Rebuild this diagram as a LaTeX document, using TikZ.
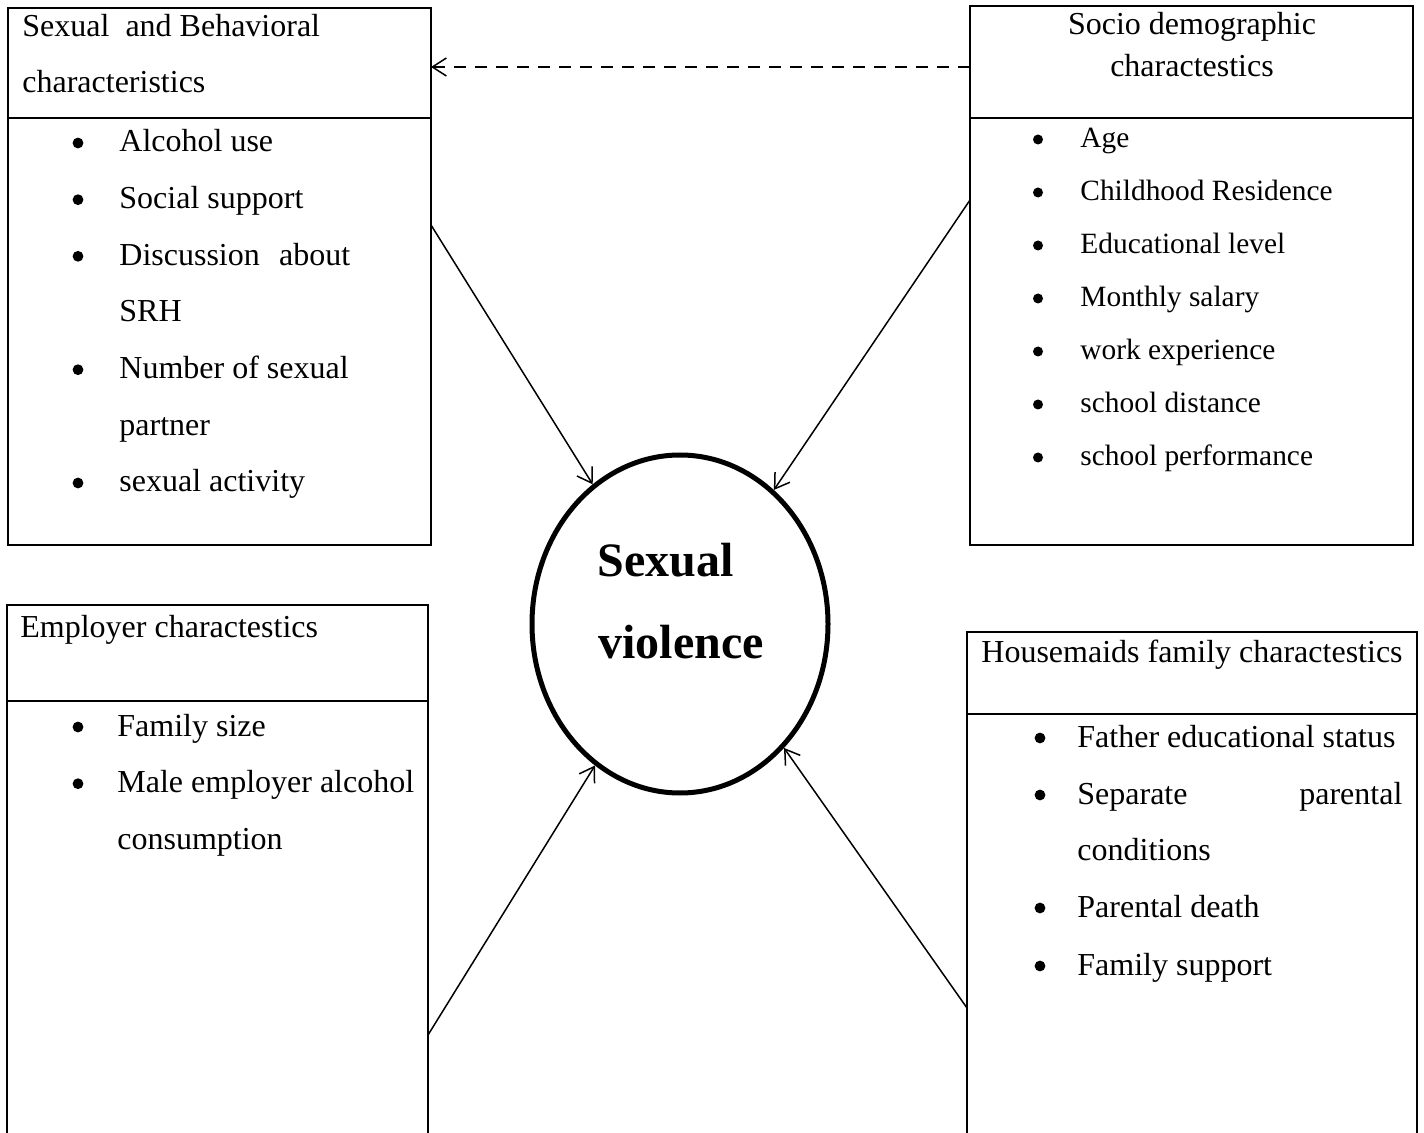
\documentclass[tikz,border=0pt]{standalone}
\usepackage{fontspec}
\setmainfont{Liberation Serif}
\usetikzlibrary{arrows.meta,shapes.geometric}
\begin{document}
\begin{tikzpicture}[x=0.5pt,y=-0.5pt,
  box/.style={draw, line width=1.2pt, rectangle, inner sep=0pt, outer sep=0pt, anchor=north west},
  txt/.style={anchor=base west, inner sep=0pt, font=\fontsize{16}{19}\selectfont},
  stxt/.style={anchor=base west, inner sep=0pt, font=\fontsize{14.7}{17}\selectfont},
  ctxt/.style={anchor=base, inner sep=0pt, font=\fontsize{16}{19}\selectfont},
  btxt/.style={anchor=base west, inner sep=0pt, font=\fontsize{24}{28}\selectfont\bfseries},
  arr/.style={line width=0.75pt, -{Straight Barb[length=7pt,width=9pt]}},
  dividerline/.style={line width=1.2pt},
]
\useasboundingbox (0,0) rectangle (1424,1133);
\begin{scope}
\clip (0,0) rectangle (1424,1133);

% boxes
\node[box, minimum width=211.5pt, minimum height=268.5pt] (tl) at (8,8) {};
\node[box, minimum width=221.5pt, minimum height=269.5pt] (tr) at (970,6) {};
\node[box, minimum width=210.5pt, minimum height=277.5pt] (bl) at (7,605) {};
\node[box, minimum width=225pt, minimum height=264pt] (br) at (967,632) {};

\draw[dividerline] (tl.west |- 0,118) -- (tl.east |- 0,118);
\draw[dividerline] (tr.west |- 0,118) -- (tr.east |- 0,118);
\draw[dividerline] (bl.west |- 0,701) -- (bl.east |- 0,701);
\draw[dividerline] (br.west |- 0,714) -- (br.east |- 0,714);

% centre ellipse
\node[ellipse, draw, line width=2.5pt, minimum width=148pt, minimum height=169pt, inner sep=0pt] (sv) at (680,624) {};
\node[btxt] (sv1) at (597,577) {Sexual};
\node[btxt] (sv2) at (598,658) {violence};

% top-left box text
\node[txt] (tlh1) at (22,37) {Sexual\ \ and Behavioral};
\node[txt] (tlh2) at (22,93) {characteristics};
\node[txt] (tli1) at (119,152) {Alcohol use};
\node[txt] (tli2) at (119,208.7) {Social support};
\node[txt] (tli3) at (119,265.3) {Discussion\hspace{0.6em}about};
\node[txt] (tli4) at (119,322) {SRH};
\node[txt] (tli5) at (119,378.7) {Number of sexual};
\node[txt] (tli6) at (119,435.3) {partner};
\node[txt] (tli7) at (119,492) {sexual activity};
\foreach \yy in {152,208.7,265.3,378.7,492}
  \fill (78,\yy-9) circle[radius=5.4];

% top-right box text
\node[ctxt] (trh1) at (1192,35) {Socio demographic};
\node[ctxt] (trh2) at (1192,77) {charactestics};
\node[stxt] (tri1) at (1080,148) {Age};
\node[stxt] (tri2) at (1080,201) {Childhood Residence};
\node[stxt] (tri3) at (1080,254) {Educational level};
\node[stxt] (tri4) at (1080,307) {Monthly salary};
\node[stxt] (tri5) at (1080,360) {work experience};
\node[stxt] (tri6) at (1080,413) {school distance};
\node[stxt] (tri7) at (1080,466) {school performance};
\foreach \yy in {148,201,254,307,360,413,466}
  \fill (1038,\yy-8.5) circle[radius=5];

% bottom-left box text
\node[txt] (blh1) at (20,638) {Employer charactestics};
\node[txt] (bli1) at (117,736) {Family size};
\node[txt] (bli2) at (117,792.7) {Male employer alcohol};
\node[txt] (bli3) at (117,849.3) {consumption};
\foreach \yy in {736,792.7}
  \fill (78,\yy-9) circle[radius=5.4];

% bottom-right box text
\node[txt] (brh1) at (981,662) {Housemaids family charactestics};
\node[txt] (bri1) at (1077,747) {Father educational status};
\node[txt] (bri2) at (1077,804) {\makebox[162.5pt][s]{Separate parental}};
\node[txt] (bri3) at (1077,860) {conditions};
\node[txt] (bri4) at (1077,917) {Parental death};
\node[txt] (bri5) at (1077,975) {Family support};
\foreach \yy in {747,804,917,975}
  \fill (1040,\yy-9) circle[radius=5.4];

% connectors
\draw[arr, dash pattern=on 6pt off 4.5pt] (tr.west |- 0,67) -- (tl.east |- 0,67);
\draw[arr] (tl.east |- 0,225) -- (sv.122.9);
\draw[arr] (tr.west |- 0,200) -- (sv.55.5);
\draw[arr] (bl.east |- 0,1035) -- (sv.-121.9);
\draw[arr] (br.west |- 0,1008) -- (sv.-50.2);
\end{scope}
\end{tikzpicture}
\end{document}
